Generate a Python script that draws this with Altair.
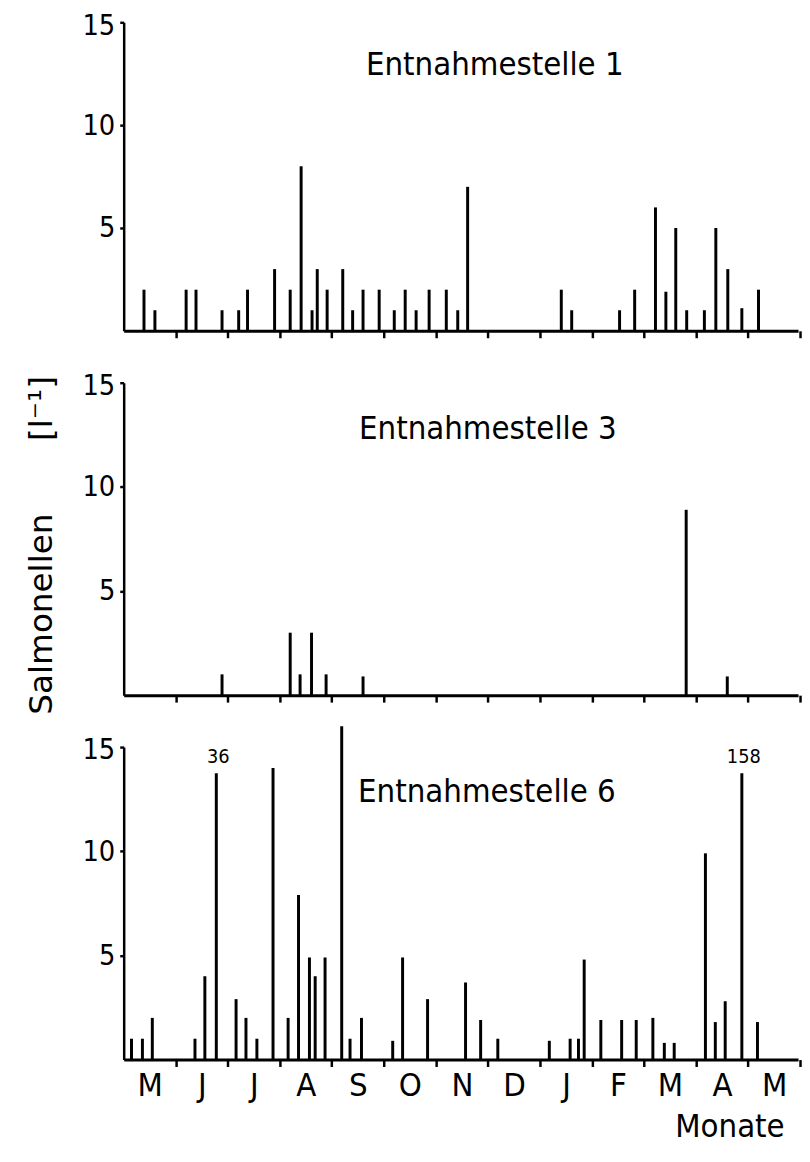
import altair as alt
import pandas as pd

# ---- data (month position: 0 = start of May, 1 month per unit) ----
MONTHS = ["M", "J", "J", "A", "S", "O", "N", "D", "J", "F", "M", "A", "M"]

P1_POS = [0.39, 0.60, 1.20, 1.39, 1.89, 2.21, 2.38, 2.90, 3.20, 3.41, 3.62, 3.72, 3.91,
          4.21, 4.40, 4.60, 4.91, 5.20, 5.41, 5.62, 5.87, 6.20, 6.42, 6.61, 8.41, 8.61,
          9.53, 9.82, 10.22, 10.42, 10.61, 10.82, 11.16, 11.38, 11.61, 11.88, 12.20]
P1_VAL = [2, 1, 2, 2, 1, 1, 2, 3, 2, 8, 1, 3, 2,
          3, 1, 2, 2, 1, 2, 1, 2, 2, 1, 7, 2, 1,
          1, 2, 6, 1.9, 5, 1, 1, 5, 3, 1.1, 2]

P2_POS = [1.89, 3.20, 3.39, 3.61, 3.89, 4.60, 10.81, 11.60]
P2_VAL = [1, 3, 1, 3, 1, 0.9, 8.9, 0.9]

P3_POS = [0.15, 0.36, 0.55, 1.37, 1.56, 1.78, 2.16, 2.35, 2.56, 2.87, 3.16, 3.36, 3.57,
          3.68, 3.87, 4.19, 4.35, 4.57, 5.17, 5.36, 5.84, 6.57, 6.86, 7.19, 8.18, 8.58,
          8.74, 8.85, 9.17, 9.57, 9.85, 10.17, 10.39, 10.58, 11.18, 11.37, 11.56, 11.88, 12.18]
P3_VAL = [1, 1, 2, 1, 4, 36, 2.9, 2, 1, 14, 2, 7.9, 4.9,
          4, 4.9, 16, 1, 2, 0.9, 4.9, 2.9, 3.7, 1.9, 1, 0.9, 1,
          1, 4.8, 1.9, 1.9, 1.9, 2, 0.8, 0.8, 9.9, 1.8, 2.8, 158, 1.8]

TITLES = ["Entnahmestelle 1", "Entnahmestelle 3", "Entnahmestelle 6"]
Y_TICKS = [5, 10, 15]
BREAK_LIMIT = 20      # values above this are drawn cut off and labelled
BREAK_HEIGHT = 13.75  # height at which cut-off bars end

# ---- layout / style ----
W = 682
X_MAX = 12.96
HALF = W / X_MAX / 2
HEIGHTS = [312, 316, 316]
FONT = "DejaVu Sans Condensed"
label_expr = "[" + ",".join(f"'{m}'" for m in MONTHS) + "][floor(datum.value)]"


def panel(pos, val, title, title_xy, height, bottom, ytitle):
    df = pd.DataFrame({"m": pos, "v": val})
    df["h"] = df["v"].where(df["v"] <= BREAK_LIMIT, BREAK_HEIGHT)
    df["lab"] = df["v"].map(lambda v: f"{v:g}" if v > BREAK_LIMIT else "")

    xaxis_kw = dict(
        values=[i + 0.5 for i in range(len(MONTHS))],
        tickOffset=HALF, labelOffset=-HALF, tickSize=7, tickWidth=2.5,
        domainWidth=3, labelFlush=False, labelOverlap=False,
        labels=bottom, labelExpr=label_expr, labelFontSize=33, labelFont=FONT,
        labelPadding=3,
    )
    if bottom:
        xaxis_kw.update(titleFont=FONT, titleFontSize=33,
                        titleFontWeight="normal", titleAlign="right",
                        titleBaseline="alphabetic", titleX=668, titleY=78,
                        titleAnchor="end")
    x = alt.X("m:Q", scale=alt.Scale(domain=[0, X_MAX], nice=False, zero=False),
              axis=alt.Axis(**xaxis_kw), title="Monate" if bottom else None)

    yaxis_kw = dict(values=Y_TICKS, tickSize=4, tickWidth=2.5, domainWidth=2.5,
                    labelFontSize=29, labelFont=FONT, labelPadding=5,
                    labelFlush=True, labelFlushOffset=11)
    if ytitle:
        yaxis_kw.update(titleFont="DejaVu Sans", titleFontSize=33,
                        titleFontWeight="normal", titlePadding=24, titleY=164)
    y = alt.Y("h:Q", scale=alt.Scale(domain=[0, 15], nice=False),
              axis=alt.Axis(**yaxis_kw),
              title=ytitle if ytitle else None)

    base = alt.Chart(df)
    bars = base.mark_rule(color="black", strokeWidth=3, strokeCap="butt", clip=False).encode(
        x=x, y=y, y2=alt.datum(0))
    labels = base.transform_filter(f"datum.v > {BREAK_LIMIT}").mark_text(
        font=FONT, fontSize=20, color="black", baseline="alphabetic", dy=-10, dx=2
    ).encode(x="m:Q", y="h:Q", text="lab:N")
    ttl = alt.Chart(pd.DataFrame({"t": [title]})).mark_text(
        font=FONT, fontSize=33, color="black", align="left", baseline="alphabetic"
    ).encode(x=alt.value(title_xy[0]), y=alt.value(title_xy[1]), text="t:N")
    return alt.layer(bars, labels, ttl).properties(width=W, height=height)


p1 = panel(P1_POS, P1_VAL, TITLES[0], (245, 53), HEIGHTS[0], False, None)
p2 = panel(P2_POS, P2_VAL, TITLES[1], (238, 57), HEIGHTS[1], False,
           "Salmonellen" + "\u00a0" * 7 + "[l\u207b\u00b9]")
p3 = panel(P3_POS, P3_VAL, TITLES[2], (237, 56), HEIGHTS[2], True, None)

chart = alt.vconcat(p1, p2, p3, spacing=52.5, bounds="flush").properties(
    padding={"left": 17, "top": -3, "right": 0, "bottom": 0}
).configure_view(stroke=None).configure_axis(
    grid=False, domainColor="black", tickColor="black", labelColor="black",
    titleColor="black"
)

chart.save("out.html", embed_options={"renderer": "svg", "actions": False})
